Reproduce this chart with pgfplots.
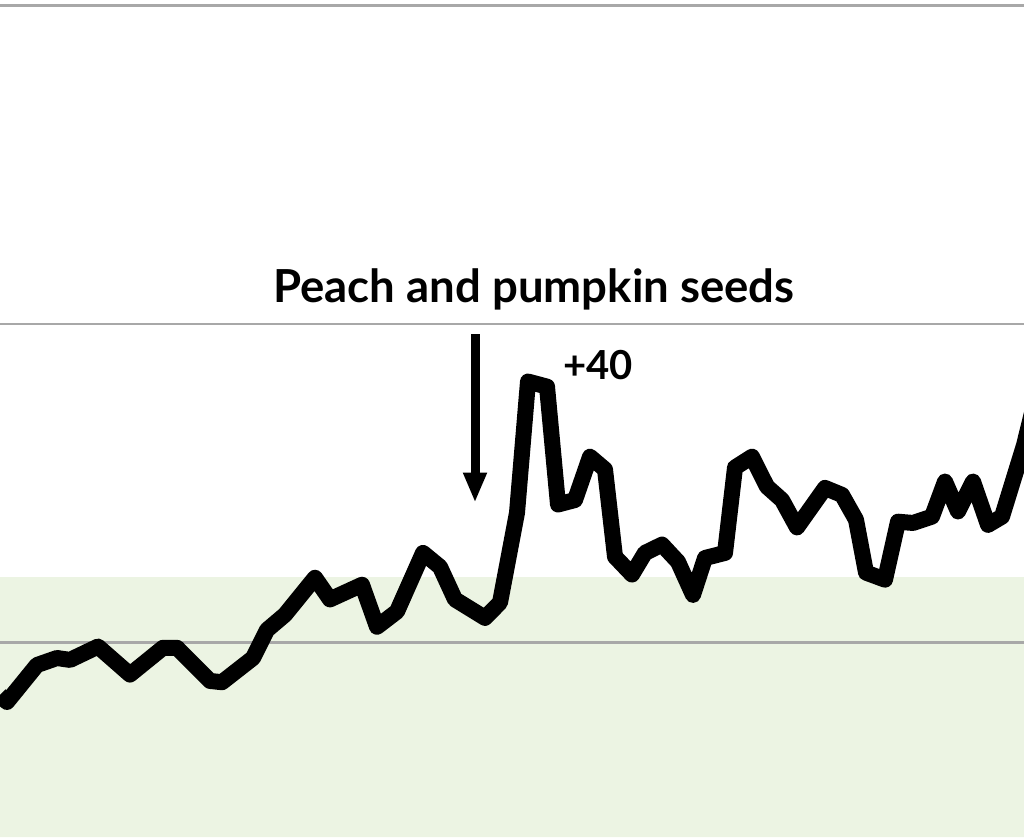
\documentclass[border=0pt]{standalone}
\usepackage{pgfplots}
\pgfplotsset{compat=1.18}
\usepackage{fontspec}
\setmainfont{Lato}
\usetikzlibrary{arrows.meta}
\definecolor{bandgreen}{RGB}{236,244,227}
\definecolor{gridgray}{RGB}{168,168,168}

% weekly index, values (gridlines at 0, 50, 100)
\pgfplotstableread{
x     y
0     -8.2
7     -9.3
37    -3.5
57    -2.4
70    -2.7
98    -0.6
130   -5.0
163   -0.8
177   -0.8
210   -6.0
222   -6.2
253   -2.4
267    2.0
285    4.4
315   10.2
330    6.8
362    9.1
377    2.5
397    4.9
423   14.1
440   11.9
455    6.8
485    3.9
500    6.3
517   20.4
528   41.0
547   40.2
558   21.7
575   22.4
590   29.2
605   27.2
615   13.5
632   10.7
645   14.1
662   15.4
678   12.7
693    7.5
705   13.3
725   14.1
735   27.5
752   29.2
767   24.5
782   22.4
797   18.1
825   24.3
842   23.2
856   19.3
866   11.0
885    9.9
898   19.0
913   18.8
932   19.8
945   25.3
958   20.6
973   25.3
988   18.5
1002  19.8
1024  31.0
1035  38.0
}\seeds

\begin{document}
\begin{tikzpicture}
\pgfplotsset{set layers}
\begin{axis}[
  name=main,
  scale only axis,
  width=1024pt, height=837pt,
  xmin=0, xmax=1024,
  ymin=-30.5, ymax=100.9,
  axis line style={draw=none},
  xtick=\empty,
  ytick={0,50,100},
  yticklabels={},
  major tick length=0pt,
  ymajorgrids,
  grid style={line width=2.5pt, color=gridgray},
  clip=true,
]
% shaded range
\addplot[on layer=axis background, fill=bandgreen, draw=none]
  coordinates {(0,-30.5) (1024,-30.5) (1024,10.3) (0,10.3)} \closedcycle;

\addplot[black, line width=16pt, line join=round, mark=none]
  table[x=x, y=y] {\seeds};

\draw[black, line width=9pt, -{Triangle[length=30pt, width=22pt]}]
  (axis cs:475,48.4) -- (axis cs:475,22.0);

\node[font=\fontsize{45.5}{48}\selectfont\bfseries, anchor=base]
  at (axis cs:534,53.4) {Peach and pumpkin seeds};
\node[font=\fontsize{40}{44}\selectfont\bfseries, anchor=base west, inner sep=0pt]
  at (axis cs:563,41.3) {+40};
\end{axis}
\pgfresetboundingbox
\path[use as bounding box] (main.south west) rectangle (main.north east);
\end{tikzpicture}
\end{document}
